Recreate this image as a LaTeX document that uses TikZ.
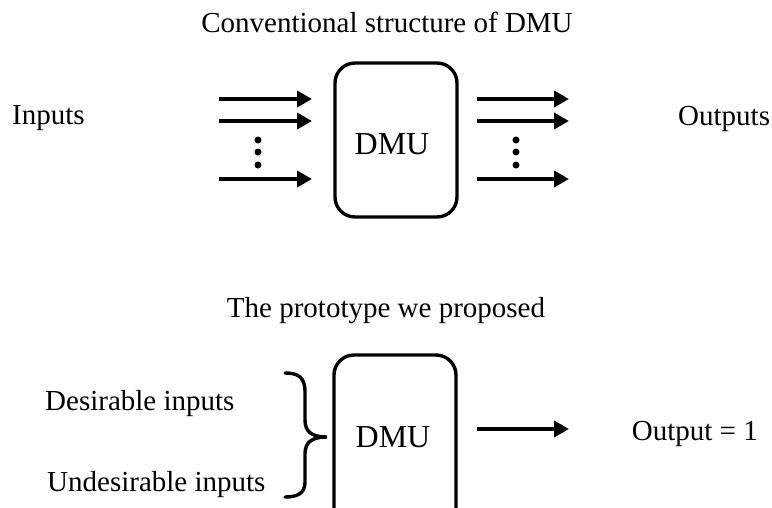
\documentclass[tikz,border=0pt]{standalone}
\usepackage{fontspec}
\setmainfont{Liberation Serif}
\usetikzlibrary{arrows.meta}
\begin{document}
\begin{tikzpicture}[x=1pt,y=-1pt,
  lbl/.style={inner sep=0pt,font=\fontsize{29}{33}\selectfont},
  big/.style={inner sep=0pt,font=\fontsize{32}{36}\selectfont},
  dmubox/.style={draw,line width=3.4pt,rounded corners=20pt,minimum width=122pt,inner sep=0pt},
  flow/.style={line width=4pt,-{Triangle[length=15pt,width=16pt]}},
  vdot/.style={circle,fill,inner sep=0pt,minimum size=7pt}]
\clip (0,0) rectangle (772,507);
\fill[white] (0,0) rectangle (772,507);
% top part
\node[lbl,anchor=base] (t1) at (387,32) {Conventional structure of DMU};
\node[dmubox,minimum height=154pt] (d1) at (396,140) {};
\node[big] (d1t) at (392,144) {DMU};
\node[lbl,anchor=base west] (in) at (12,124) {Inputs};
\node[lbl,anchor=base west] (out) at (678,125) {Outputs};
\foreach \y [count=\i] in {99,121,179}{
  \coordinate (ia\i) at (219,\y); \coordinate (ib\i) at (312,\y);
  \coordinate (oa\i) at (477,\y); \coordinate (ob\i) at (569,\y);
  \draw[flow] (ia\i) -- (ib\i);
  \draw[flow] (oa\i) -- (ob\i);
}
\foreach \y [count=\i] in {140,152,165}{
  \node[vdot] (ld\i) at (258,\y) {};
  \node[vdot] (rd\i) at (516,\y) {};
}
% bottom part
\node[lbl,anchor=base] (t2) at (386,317) {The prototype we proposed};
\node[dmubox,minimum height=200pt] (d2) at (395,455) {};
\node[big] (d2t) at (393,437) {DMU};
\node[lbl,anchor=base west] (des) at (45,410) {Desirable inputs};
\node[lbl,anchor=base west] (und) at (47,491) {Undesirable inputs};
\node[lbl,anchor=base east] (o1) at (758,440) {Output = 1};
\draw[line width=3.4pt,line cap=round]
  (285,373) .. controls (298,373) and (305,377) .. (305,392)
  -- (305,420) .. controls (305,432) and (312,437) .. (327,437)
  .. controls (312,437) and (305,442) .. (305,454)
  -- (305,482) .. controls (305,493) and (298,497) .. (285,497);
\coordinate (ba) at (477,429); \coordinate (bb) at (569,429);
\draw[flow] (ba) -- (bb);
\end{tikzpicture}
\end{document}
